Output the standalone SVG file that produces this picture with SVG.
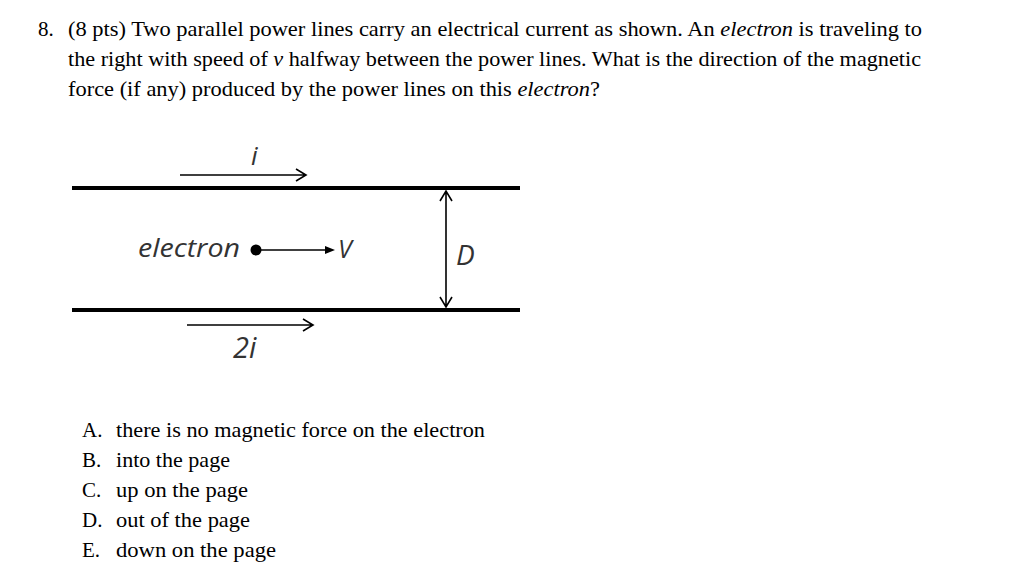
<svg xmlns="http://www.w3.org/2000/svg" width="1024" height="586" viewBox="0 0 1024 586">
<style>
.t{font-family:"Liberation Serif",serif;font-size:21px;fill:#000}
.s{font-family:"Open Sans","DejaVu Sans",sans-serif;font-style:italic;fill:#333}
.w{stroke:#000;stroke-width:4}
.a{stroke:#000;stroke-width:1.6;fill:none}
</style>
<rect width="1024" height="586" fill="#fff"/>
<g id="question">
<text class="t" x="38" y="36">8.</text>
<text class="t" x="68" y="36" textLength="854" lengthAdjust="spacingAndGlyphs">(8 pts) Two parallel power lines carry an electrical current as shown. An <tspan font-style="italic">electron</tspan> is traveling to</text>
<text class="t" x="68" y="66" textLength="853" lengthAdjust="spacingAndGlyphs">the right with speed of <tspan font-style="italic">v</tspan> halfway between the power lines. What is the direction of the magnetic</text>
<text class="t" x="68" y="96" textLength="532" lengthAdjust="spacingAndGlyphs">force (if any) produced by the power lines on this <tspan font-style="italic">electron</tspan>?</text>
</g>
<g id="topline"><line class="w" x1="72" y1="188" x2="520" y2="188"/></g>
<g id="bottomline"><line class="w" x1="72" y1="310" x2="520" y2="310"/></g>
<g id="labels">
<text class="s" x="251" y="165" font-size="26">i</text>
<text class="s" x="233" y="358" font-size="29">2i</text>
<text class="s" x="138" y="257" font-size="25" textLength="102" lengthAdjust="spacingAndGlyphs">electron</text>
<text class="s" x="338" y="258" font-size="25">V</text>
<text class="s" x="456" y="265" font-size="28">D</text>
<circle id="electron" cx="256" cy="250" r="5.5" fill="#000"/>
</g>
<g id="connectors">
<path class="a" d="M180 175 H306 M296 169 L306 175 L296 181"/>
<path class="a" d="M187 325 H313 M303 319 L313 325 L303 331"/>
<line class="a" x1="256" y1="250" x2="327" y2="250"/>
<path d="M335 250 L325 246 L325 254 Z" fill="#000"/>
<path class="a" d="M446 191 V307 M440 201 L446 191 L452 201 M440 297 L446 307 L452 297"/>
</g>
<g id="answers">
<text class="t" x="82" y="437">A.</text><text class="t" x="116" y="437" textLength="369" lengthAdjust="spacingAndGlyphs">there is no magnetic force on the electron</text>
<text class="t" x="82" y="467">B.</text><text class="t" x="116" y="467" textLength="114" lengthAdjust="spacingAndGlyphs">into the page</text>
<text class="t" x="82" y="497">C.</text><text class="t" x="116" y="497" textLength="132" lengthAdjust="spacingAndGlyphs">up on the page</text>
<text class="t" x="82" y="527">D.</text><text class="t" x="116" y="527" textLength="134" lengthAdjust="spacingAndGlyphs">out of the page</text>
<text class="t" x="82" y="557">E.</text><text class="t" x="116" y="557" textLength="160" lengthAdjust="spacingAndGlyphs">down on the page</text>
</g>
</svg>
